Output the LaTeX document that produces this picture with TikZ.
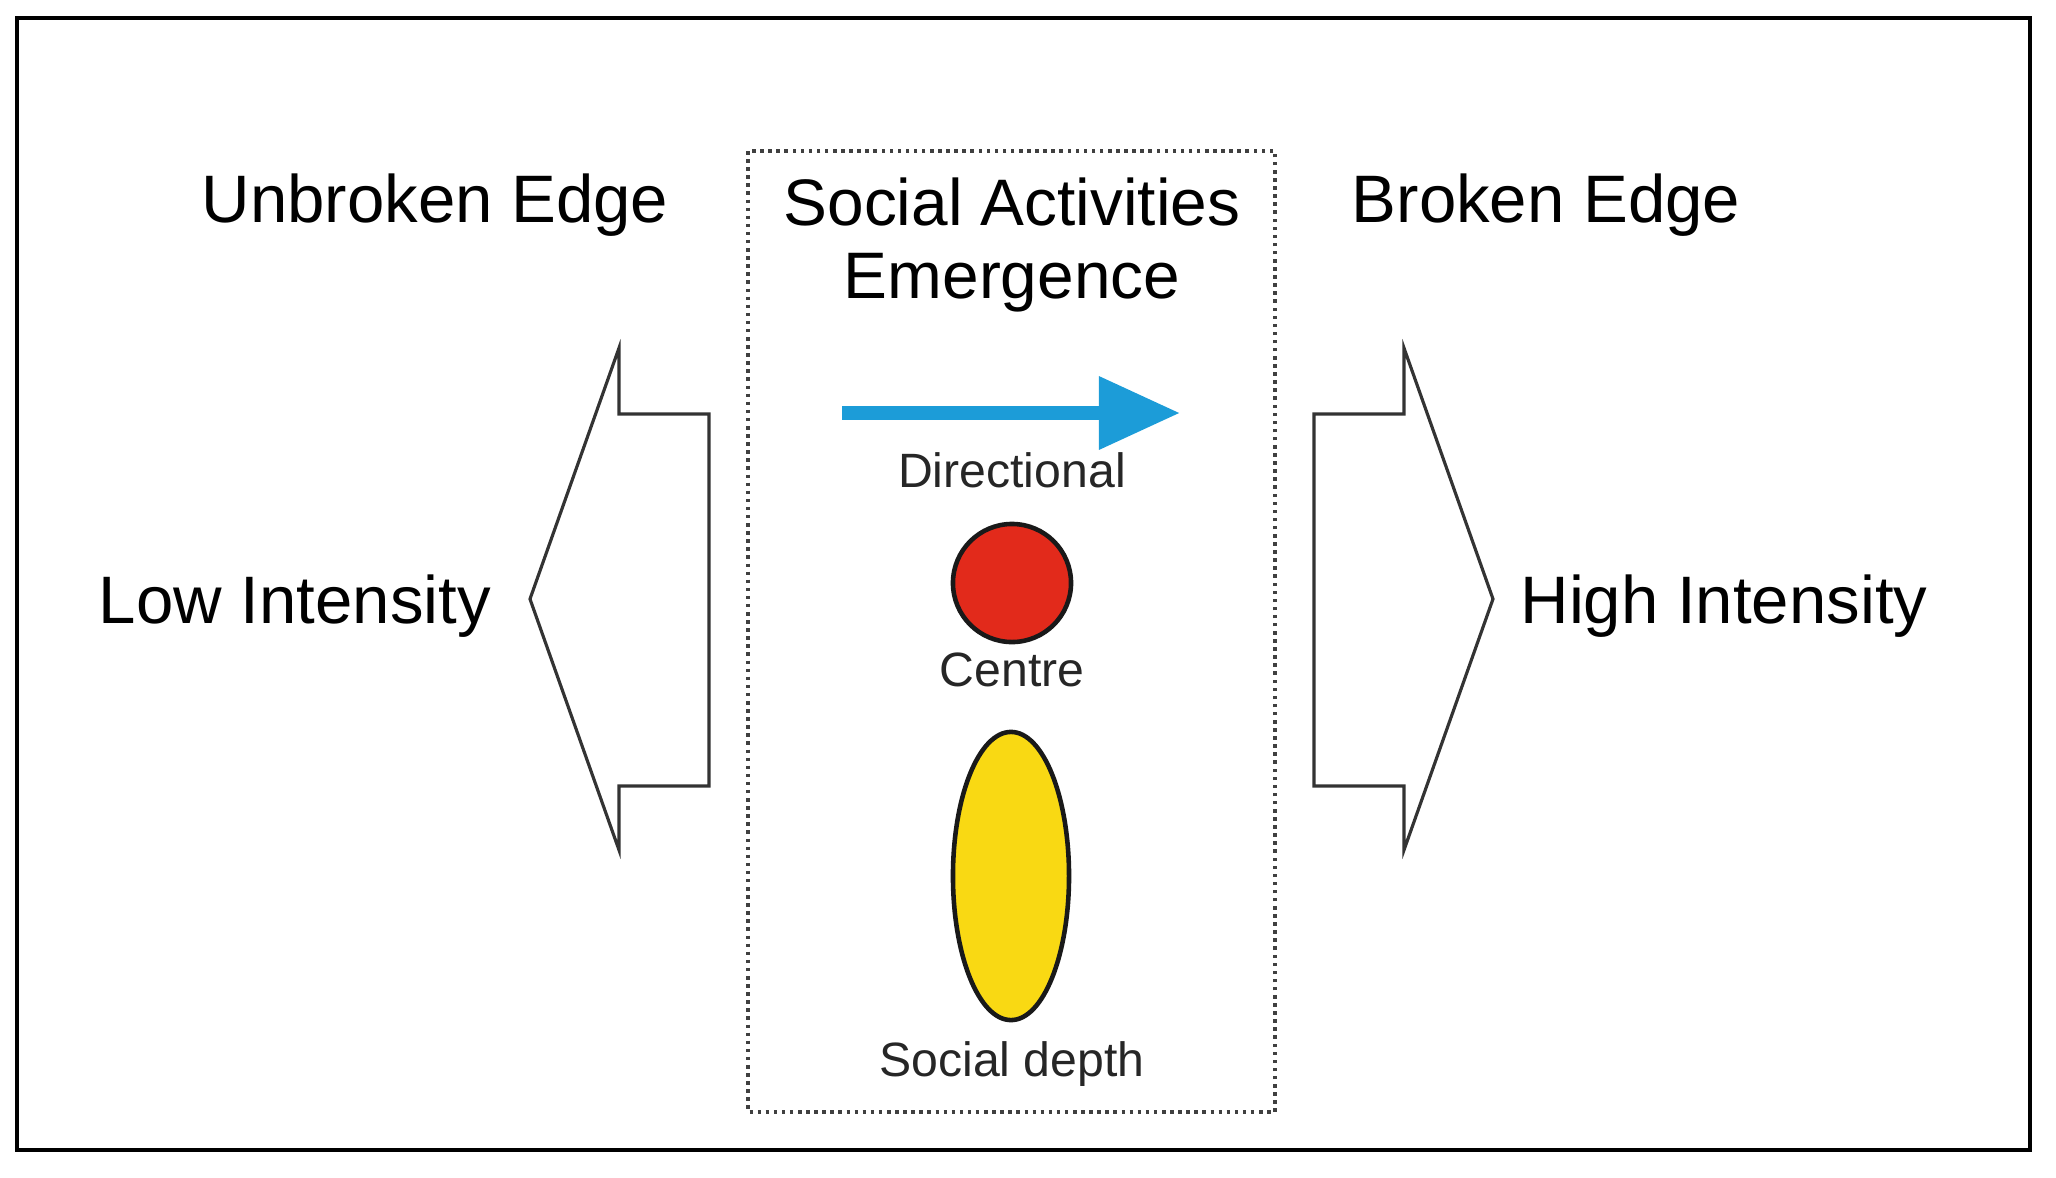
\documentclass[tikz,border=0pt]{standalone}
\usepackage{fontspec}
\setmainfont{Liberation Sans}
\usetikzlibrary{arrows.meta,shapes.geometric}
\definecolor{dirblue}{RGB}{28,156,216}
\definecolor{centrered}{RGB}{226,42,27}
\definecolor{depthyellow}{RGB}{249,217,19}
\begin{document}
\begin{tikzpicture}[x=0.01cm,y=-0.01cm,
  biglabel/.style={anchor=base,font=\fontsize{19.1}{23}\selectfont},
  titlelabel/.style={anchor=base,font=\fontsize{18.7}{22}\selectfont},
  smalllabel/.style={anchor=base,font=\fontsize{13.7}{16}\selectfont,text=black!85},
  blockarrow/.style={draw=black!80,line width=0.9pt,line join=miter},
  marker/.style={draw=black!90,line width=1.3pt,inner sep=0pt}]
\useasboundingbox (0,0) rectangle (2056,1178);
\draw[line width=1.15pt] (17,18) rectangle (2030,1150);
\draw[black!75,line width=1pt,dash pattern=on 1pt off 1.3pt] (748,151) rectangle (1275,1112);

% block arrows
\draw[blockarrow] (709,414) -- (619,414) -- (619,348) -- (530,599) -- (619,850) -- (619,786) -- (709,786) -- cycle;
\draw[blockarrow] (1314,414) -- (1404,414) -- (1404,348) -- (1493,599) -- (1404,850) -- (1404,786) -- (1314,786) -- cycle;

% side labels
\node[biglabel] (unbroken) at (435,222) {Unbroken Edge};
\node[biglabel] (broken) at (1546,222) {Broken Edge};
\node[biglabel] (low) at (295,623) {Low Intensity};
\node[biglabel] (high) at (1724,623) {High Intensity};

% middle column
\node[titlelabel] (title1) at (1012,225) {Social Activities};
\node[titlelabel] (title2) at (1012,298) {Emergence};

\coordinate (dirstart) at (842,413);
\coordinate (dirtip) at (1180,413);
\draw[dirblue,line width=3.8pt,-{Triangle[length=0.81cm,width=0.70cm]}] (dirstart) -- (dirtip);
\node[smalllabel] (directional) at (1012,487) {Directional};

\node[marker,circle,fill=centrered,minimum size=1.18cm] (centre) at (1012,583) {};
\node[smalllabel] (centrelabel) at (1012,686) {Centre};

\node[marker,ellipse,fill=depthyellow,minimum width=1.16cm,minimum height=2.88cm] (depth) at (1011,876) {};
\node[smalllabel] (depthlabel) at (1012,1076) {Social depth};
\end{tikzpicture}
\end{document}
